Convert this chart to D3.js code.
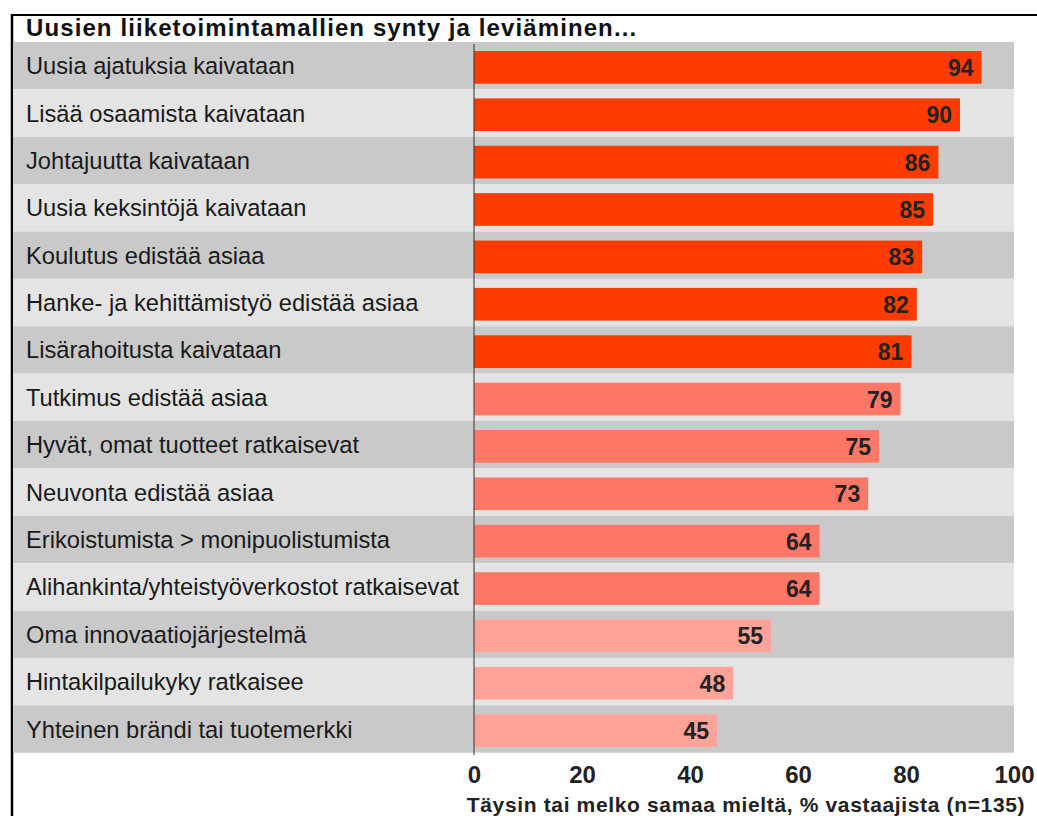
<!DOCTYPE html>
<html>
<head>
<meta charset="utf-8">
<script src="https://cdn.jsdelivr.net/npm/d3@7"></script>
<style>
  body { margin: 0; background: #fff; }
  svg { display: block; font-family: Arial, "Liberation Sans", sans-serif; }
</style>
</head>
<body>
<svg width="1037" height="816"></svg>
<script>
const categories = [
  "Uusia ajatuksia kaivataan",
  "Lisää osaamista kaivataan",
  "Johtajuutta kaivataan",
  "Uusia keksintöjä kaivataan",
  "Koulutus edistää asiaa",
  "Hanke- ja kehittämistyö edistää asiaa",
  "Lisärahoitusta kaivataan",
  "Tutkimus edistää asiaa",
  "Hyvät, omat tuotteet ratkaisevat",
  "Neuvonta edistää asiaa",
  "Erikoistumista > monipuolistumista",
  "Alihankinta/yhteistyöverkostot ratkaisevat",
  "Oma innovaatiojärjestelmä",
  "Hintakilpailukyky ratkaisee",
  "Yhteinen brändi tai tuotemerkki"
];
const values = [94, 90, 86, 85, 83, 82, 81, 79, 75, 73, 64, 64, 55, 48, 45];
// colour group of each bar: 0 = strong, 1 = medium, 2 = weak
const groups = [0, 0, 0, 0, 0, 0, 0, 1, 1, 1, 1, 1, 2, 2, 2];
const xTicks = [0, 20, 40, 60, 80, 100];

const title = "Uusien liiketoimintamallien synty ja leviäminen...";
const xTitle = "Täysin tai melko samaa mieltä, % vastaajista (n=135)";

const barColors = ["#ff3c00", "#ff7766", "#ffa399"];
const rowColors = ["#c9c9c9", "#e4e4e4"];

const svg = d3.select("svg");

// scales
const x = d3.scaleLinear().domain([0, 100]).range([474, 1014]);
const y = d3.scaleBand().domain(categories).range([42, 752.7]).padding(0);
const bw = y.bandwidth();

// frame (left + top)
svg.append("line")
  .attr("x1", 12).attr("x2", 12).attr("y1", 14).attr("y2", 816)
  .attr("stroke", "#000").attr("stroke-width", 2.5);
svg.append("line")
  .attr("x1", 11).attr("x2", 1037).attr("y1", 15).attr("y2", 15)
  .attr("stroke", "#000").attr("stroke-width", 2);

svg.append("text")
  .attr("x", 26).attr("y", 36)
  .attr("font-size", 24).attr("font-weight", "bold").attr("fill", "#111")
  .attr("letter-spacing", 1.1)
  .text(title);

// row stripes
svg.append("g").selectAll("rect")
  .data(categories)
  .join("rect")
  .attr("x", 13)
  .attr("y", (d) => y(d))
  .attr("width", x(100) - 13)
  .attr("height", bw)
  .attr("fill", (d, i) => rowColors[i % 2]);

// bars
svg.append("g").selectAll("rect")
  .data(values)
  .join("rect")
  .attr("x", x(0))
  .attr("y", (d, i) => y(categories[i]) + bw * 0.19)
  .attr("width", (d) => x(d) - x(0))
  .attr("height", bw * 0.69)
  .attr("fill", (d, i) => barColors[groups[i]]);

// value labels
svg.append("g").selectAll("text")
  .data(values)
  .join("text")
  .attr("x", (d) => x(d) - 8)
  .attr("y", (d, i) => y(categories[i]) + bw * 0.19 + bw * 0.345 + 8.5)
  .attr("text-anchor", "end")
  .attr("font-size", 23).attr("font-weight", "bold").attr("fill", "#222")
  .text((d) => d);

// category labels
svg.append("g").selectAll("text")
  .data(categories)
  .join("text")
  .attr("x", 26)
  .attr("y", (d) => y(d) + bw / 2 + 8.5)
  .attr("font-size", 23.7).attr("fill", "#1a1a1a")
  .text((d) => d);

// x axis
const xAxis = d3.axisBottom(x).tickValues(xTicks).tickSize(0).tickPadding(13);
const axisG = svg.append("g")
  .attr("transform", "translate(0,752.7)")
  .call(xAxis);
axisG.select(".domain").remove();
axisG.selectAll("text")
  .attr("font-size", 24).attr("font-weight", "bold").attr("fill", "#222")
  .attr("font-family", "Arial, 'Liberation Sans', sans-serif")
  .attr("dy", "0.71em");

// zero line
svg.append("line")
  .attr("x1", x(0)).attr("x2", x(0))
  .attr("y1", 44).attr("y2", 755)
  .attr("stroke", "#333").attr("stroke-width", 1);

svg.append("text")
  .attr("x", 746).attr("y", 812)
  .attr("text-anchor", "middle")
  .attr("font-size", 21).attr("font-weight", "bold").attr("fill", "#222")
  .attr("letter-spacing", 0.65)
  .text(xTitle);
</script>
</body>
</html>
